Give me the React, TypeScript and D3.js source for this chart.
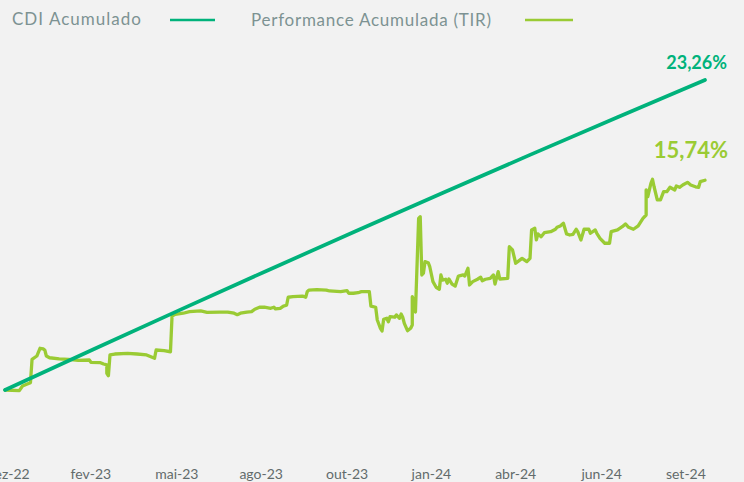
import React from "react";
import * as d3 from "d3";

const W = 744;
const H = 482;

const xLabels = ["dez-22", "fev-23", "mai-23", "ago-23", "out-23", "jan-24", "abr-24", "jun-24", "set-24"];
const xLabelDays = [2, 54, 108, 161, 215, 268, 321, 375, 428];
const totalDays = 440;

const cdiDays = [0, 55, 110, 165, 220, 275, 330, 385, 440];
const cdiValues = [0, 3.02, 6.01, 8.97, 11.89, 14.78, 17.64, 20.47, 23.26];

const perfDays = [
  0, 9, 11, 14, 16, 17, 20, 22, 24, 25, 26, 28, 34, 40, 46, 53, 54, 60, 62, 64, 64, 65, 66, 69, 77, 83, 89, 94, 95, 100,
  104, 105, 107, 112, 116, 123, 127, 135, 140, 144, 146, 148, 152, 155, 157, 160, 163, 167, 169, 170, 173, 175, 177, 178,
  181, 187, 189, 190, 191, 196, 202, 204, 211, 215, 216, 219, 222, 224, 229, 230, 233, 234, 236, 237, 238, 240, 241, 242,
  245, 246, 248, 249, 250, 251, 253, 255, 256, 256, 257, 258, 260, 261, 262, 263, 264, 266, 267, 269, 271, 273, 274, 275,
  277, 278, 279, 281, 283, 285, 288, 289, 291, 292, 294, 297, 299, 300, 302, 305, 307, 308, 310, 311, 316, 317, 319, 321,
  325, 328, 330, 331, 333, 334, 335, 337, 339, 343, 346, 347, 349, 351, 353, 355, 357, 359, 360, 362, 364, 367, 368, 371,
  372, 374, 377, 380, 381, 385, 388, 390, 392, 395, 398, 401, 403, 403, 404, 406, 407, 408, 410, 412, 414, 416, 418, 421,
  422, 424, 426, 429, 431, 434, 436, 437, 440,
];
const perfValues = [
  0, -0.05, 0.3, 0.45, 0.55, 2.3, 2.55, 3.13, 3.08, 3.0, 2.55, 2.42, 2.33, 2.3, 2.23, 2.25, 2.08, 2.05, 1.95, 1.88, 1.25,
  1.07, 2.63, 2.7, 2.75, 2.7, 2.63, 2.38, 3.0, 2.95, 2.87, 5.55, 5.68, 5.76, 5.88, 5.93, 5.83, 5.85, 5.85, 5.76, 5.65,
  5.76, 5.85, 5.88, 6.06, 6.21, 6.21, 6.13, 6.21, 6.08, 6.13, 6.3, 6.36, 6.96, 7.0, 7.05, 6.96, 7.38, 7.5, 7.53, 7.5, 7.43,
  7.38, 7.45, 7.26, 7.26, 7.3, 7.38, 7.38, 6.3, 6.21, 5.25, 4.63, 4.43, 5.3, 5.38, 5.12, 5.5, 5.46, 5.63, 5.38, 5.7, 5.46,
  5.0, 4.45, 4.63, 4.88, 7.0, 6.75, 5.85, 12.88, 13.0, 8.63, 8.76, 9.63, 9.55, 9.25, 8.13, 7.71, 7.56, 8.63, 8.25, 8.31,
  8.01, 8.33, 7.95, 7.8, 8.55, 8.63, 8.55, 9.13, 7.88, 8.13, 8.31, 8.46, 8.2, 8.31, 8.38, 8.63, 7.95, 8.88, 8.33, 8.38,
  10.75, 10.51, 9.51, 9.88, 9.63, 9.88, 12.01, 12.13, 11.26, 11.71, 11.5, 11.8, 11.88, 12.06, 12.21, 12.31, 12.51, 11.71,
  11.63, 11.68, 12.06, 11.88, 11.26, 12.06, 12.06, 11.76, 12.01, 11.76, 11.38, 11.01, 11.01, 11.88, 12.01, 12.25, 12.46,
  12.21, 12.06, 12.31, 12.88, 13.13, 15.01, 14.5, 15.51, 15.81, 15.25, 14.26, 14.26, 14.88, 14.88, 15.21, 15.01, 15.31,
  15.21, 15.38, 15.58, 15.38, 15.25, 15.21, 15.63, 15.74,
];

const legendLabels = ["CDI Acumulado", "Performance Acumulada (TIR)"];
const endLabels = ["23,26%", "15,74%"];

const CDI_COLOR = "#00b27b";
const PERF_COLOR = "#9acb34";
const LEGEND_COLOR = "#7d9292";
const AXIS_COLOR = "#626b6b";
const FONT = "Lato, 'DejaVu Sans', sans-serif";

export default function App() {
  const x = d3.scaleLinear().domain([0, totalDays]).range([5, 705]);
  const y = d3.scaleLinear().domain([0, 23.26]).range([390, 80]);

  const cdiData = cdiDays.map((d, i) => [d, cdiValues[i]] as [number, number]);
  const perfData = perfDays.map((d, i) => [d, perfValues[i]] as [number, number]);

  const line = d3
    .line<[number, number]>()
    .x((d) => x(d[0]))
    .y((d) => y(d[1]));

  const lastCdi = cdiData[cdiData.length - 1];
  const lastPerf = perfData[perfData.length - 1];

  return (
    <div style={{ position: "fixed", left: 0, top: 0, width: W, height: H }}>
      <svg width={W} height={H} style={{ display: "block", fontFamily: FONT }}>
        <rect x={0} y={0} width={W} height={H} fill="#f2f2f2" />

        {/* legend */}
        <text x={12} y={24.5} fontSize={17} fill={LEGEND_COLOR} textLength={129} lengthAdjust="spacing">
          {legendLabels[0]}
        </text>
        <line x1={170} x2={215} y1={20} y2={20} stroke={CDI_COLOR} strokeWidth={2.5} />
        <text x={251} y={25.5} fontSize={17} fill={LEGEND_COLOR} textLength={240} lengthAdjust="spacing">
          {legendLabels[1]}
        </text>
        <line x1={525} x2={573} y1={20} y2={20} stroke={PERF_COLOR} strokeWidth={2.5} />

        {/* lines */}
        <path d={line(perfData) || ""} fill="none" stroke={PERF_COLOR} strokeWidth={3.3} strokeLinejoin="round" strokeLinecap="round" />
        <path d={line(cdiData) || ""} fill="none" stroke={CDI_COLOR} strokeWidth={3.7} strokeLinecap="round" />

        {/* end labels */}
        <text x={x(lastCdi[0]) + 22} y={y(lastCdi[1]) - 11} fontSize={18} fontWeight={700} fill={CDI_COLOR} textAnchor="end">
          {endLabels[0]}
        </text>
        <text x={x(lastPerf[0]) + 23} y={y(lastPerf[1]) - 22} fontSize={22} fontWeight={700} fill={PERF_COLOR} textAnchor="end">
          {endLabels[1]}
        </text>

        {/* x axis labels */}
        {xLabels.map((lab, i) => (
          <text key={lab} x={x(xLabelDays[i])} y={479} fontSize={14} fill={AXIS_COLOR} textAnchor="middle">
            {lab}
          </text>
        ))}
      </svg>
    </div>
  );
}
